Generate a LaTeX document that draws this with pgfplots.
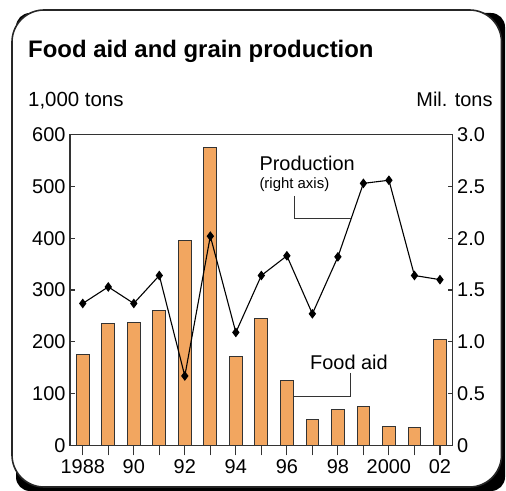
\documentclass[border=0pt]{standalone}
\usepackage{pgfplots}
\pgfplotsset{compat=1.18}
\usepackage{fontspec}
\setmainfont{Liberation Sans}
\definecolor{barfill}{HTML}{F2A660}
\definecolor{axcol}{HTML}{333333}
\pgfplotstableread{
year aid
1988 175
1989 235
1990 238
1991 260
1992 395
1993 575
1994 171
1995 245
1996 125
1997 50
1998 69
1999 75
2000 37
2001 35
2002 205
}\aidtable
\pgfplotstableread{
year prod
1988 1.37
1989 1.53
1990 1.37
1991 1.64
1992 0.67
1993 2.02
1994 1.09
1995 1.64
1996 1.83
1997 1.27
1998 1.82
1999 2.53
2000 2.56
2001 1.64
2002 1.60
}\prodtable
\begin{document}
\begin{tikzpicture}
\begin{scope}[x=1bp,y=1bp]
\useasboundingbox (0,0) rectangle (506,491);
\fill[black,rounded corners=14bp] (16,0) rectangle (505,478);
\filldraw[fill=white,draw=black!85,line width=1.6bp,rounded corners=32bp] (12,4) rectangle (501.5,481);
\end{scope}
\pgfplotsset{every axis/.append style={
  at={(70bp,45.7bp)}, anchor=south west, scale only axis,
  width=382.7bp, height=310.6bp, xmin=1987.5, xmax=2002.5,
  axis line style={axcol,line width=1.4bp},
  tick style={axcol,line width=1.2bp},
  tick label style={font=\fontsize{20}{20}\selectfont},
}}
\begin{axis}[ymin=0,ymax=600, tick align=inside, major tick length=5bp,
  ytick={0,100,200,300,400,500,600}, yticklabels={0,100,200,300,400,500,600},
  ytick pos=left, xtick=\empty, yticklabel style={xshift=-1bp}]
\addplot[ybar, bar width=0.5, bar shift=0pt, fill=barfill, draw=axcol, line width=1bp] table[x=year,y=aid] {\aidtable};
\end{axis}
\begin{axis}[ymin=0,ymax=3, tick align=inside, major tick length=5bp,
  ytick={0,0.5,1,1.5,2,2.5,3}, yticklabels={0,0.5,1.0,1.5,2.0,2.5,3.0},
  ytick pos=right, yticklabel pos=right, xtick=\empty, yticklabel style={xshift=1bp}]
\addplot[black, line width=1.1bp, mark=diamond*, mark size=4bp, mark options={solid,fill=black}] table[x=year,y=prod] {\prodtable};
\end{axis}
\begin{axis}[ymin=0,ymax=1, ytick=\empty, tick align=outside, major tick length=10bp,
  xtick={1988,...,2002}, xtick pos=bottom,
  xticklabels={1988,,90,,92,,94,,96,,98,,2000,,02}, xticklabel style={yshift=-1bp}]
\end{axis}
\begin{scope}[x=1bp,y=1bp]
\node[anchor=base west, inner sep=0, font=\bfseries\fontsize{24}{24}\selectfont] at (28,433) {Food aid and grain production};
\node[anchor=base west, inner sep=0, font=\fontsize{20.5}{20.5}\selectfont] at (28,384) {1,000 tons};
\node[anchor=base east, inner sep=0, font=\fontsize{20}{20}\selectfont] at (492.7,384) {Mil. tons};
\node[anchor=base west, inner sep=0, font=\fontsize{20}{20}\selectfont] at (259.3,320) {Production};
\node[anchor=base west, inner sep=0, font=\fontsize{15}{15}\selectfont] at (259.3,302) {(right axis)};
\node[anchor=base west, inner sep=0, font=\fontsize{20}{20}\selectfont] at (310,121.7) {Food aid};
\draw[axcol, line width=1bp] (294.3,295) -- (294.3,272) -- (350.7,272);
\draw[axcol, line width=1bp] (350.7,118) -- (350.7,94) -- (294.3,94);
\end{scope}
\end{tikzpicture}
\end{document}
